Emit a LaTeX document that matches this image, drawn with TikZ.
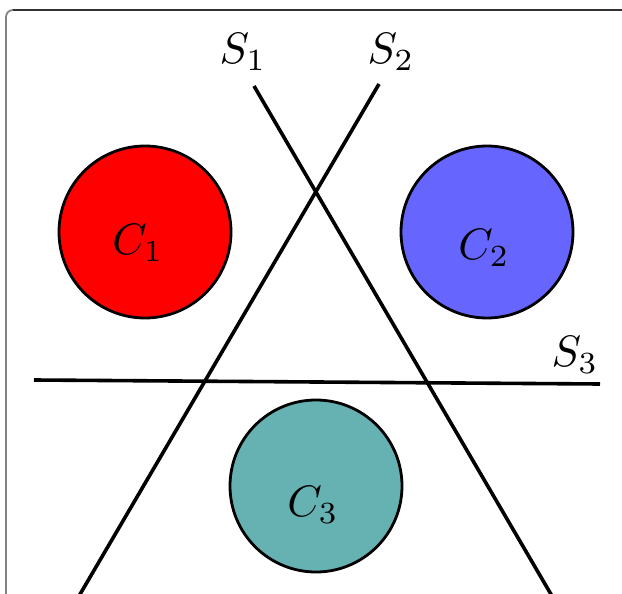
\documentclass[tikz,border=0pt]{standalone}
\definecolor{cred}{RGB}{255,0,0}
\definecolor{cblue}{RGB}{102,102,255}
\definecolor{cteal}{RGB}{102,178,178}
\definecolor{frametop}{RGB}{50,50,50}
\definecolor{frameleft}{RGB}{130,130,130}
\tikzset{
  disc/.style={circle, draw=black, line width=2.8pt, minimum size=172pt, inner sep=0pt},
  sep/.style={line width=3.6pt, black},
  lbl/.style={inner sep=0pt, scale=4.4}
}
\begin{document}
\begin{tikzpicture}[x=1pt,y=-1pt]
\useasboundingbox (0,0) rectangle (622,594);
% frame
\draw[frameleft, line width=1.8pt] (6,594) -- (6,17) arc[start angle=180, end angle=270, radius=7];
\draw[frametop, line width=1.8pt] (13,10) -- (622,10);
% circles
\node[disc, fill=cred] (c1) at (145,232) {};
\node[disc, fill=cblue] (c2) at (487,232) {};
\node[disc, fill=cteal] (c3) at (316,486) {};
\node[lbl] (l1) at (138,243) {$C_1$};
\node[lbl] (l2) at (484,248) {$C_2$};
\node[lbl] (l3) at (313,505) {$C_3$};
% separators
\coordinate (s1a) at (254,86);
\coordinate (s1b) at (552,596);
\coordinate (s2a) at (379,84);
\coordinate (s2b) at (79,596);
\coordinate (s3a) at (34,380);
\coordinate (s3b) at (600,384);
\draw[sep] (s1a) -- (s1b);
\draw[sep] (s2a) -- (s2b);
\draw[sep] (s3a) -- (s3b);
\node[lbl] (t1) at (243,52) {$S_1$};
\node[lbl] (t2) at (391,52) {$S_2$};
\node[lbl] (t3) at (575,355) {$S_3$};
\end{tikzpicture}
\end{document}
